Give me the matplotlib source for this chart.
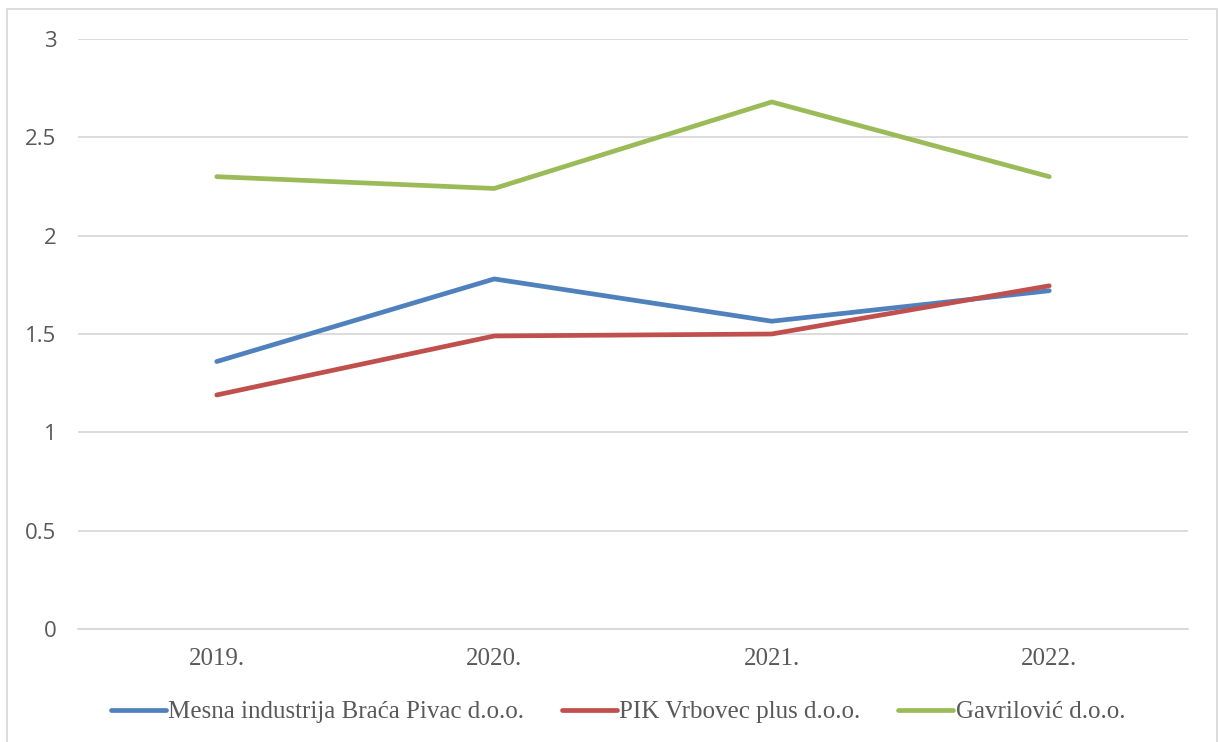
import matplotlib
matplotlib.use("Agg")
import matplotlib.pyplot as plt
from matplotlib.patches import Rectangle

years = ["2019.", "2020.", "2021.", "2022."]
pivac = [1.36, 1.78, 1.565, 1.72]
pik = [1.19, 1.49, 1.50, 1.745]
gavrilovic = [2.30, 2.24, 2.68, 2.30]
names = ["Mesna industrija Braća Pivac d.o.o.", "PIK Vrbovec plus d.o.o.", "Gavrilović d.o.o."]
colors = ["#4F81BD", "#C0504D", "#9BBB59"]

W, H = 1218, 742
fig = plt.figure(figsize=(W / 100, H / 100), dpi=100)
ax = fig.add_axes([78 / W, (H - 629) / H, (1188 - 78) / W, (629 - 39) / H])

x = range(len(years))
for vals, name, c in zip([pivac, pik, gavrilovic], names, colors):
    ax.plot(x, vals, color=c, lw=3.4, label=name, solid_capstyle="round", solid_joinstyle="round")

ax.set_xlim(-0.5, 3.5)
ax.set_ylim(0, 3)
ax.set_yticks([0, 0.5, 1, 1.5, 2, 2.5, 3])
ax.set_yticklabels(["0", "0.5", "1", "1.5", "2", "2.5", "3"], family="Open Sans", fontsize=16, color="#595959")
ax.set_xticks(list(x))
ax.set_xticklabels(years, family="Liberation Serif", fontsize=18, color="#595959")
ax.tick_params(length=0)
ax.tick_params(axis="y", pad=15.5)
ax.tick_params(axis="x", pad=14)
ax.grid(axis="y", color="#D9D9D9", lw=1.3)
ax.set_axisbelow(True)
for s in ["top", "right", "left"]:
    ax.spines[s].set_visible(False)
ax.spines["bottom"].set_color("#D9D9D9")
ax.spines["bottom"].set_linewidth(1.3)

leg = fig.legend(loc="center", bbox_to_anchor=(618 / W, (H - 712) / H), ncol=3, frameon=False,
                 prop={"family": "Liberation Serif", "size": 18}, handlelength=2.2,
                 columnspacing=1.5, handletextpad=0.1)
for t in leg.get_texts():
    t.set_color("#595959")

fig.patches.append(Rectangle((7 / W, -0.01), (1217 - 7) / W, (H - 9) / H + 0.01, transform=fig.transFigure,
                             fill=False, ec="#D9D9D9", lw=1.3))

fig.savefig("out.png", dpi=100)
